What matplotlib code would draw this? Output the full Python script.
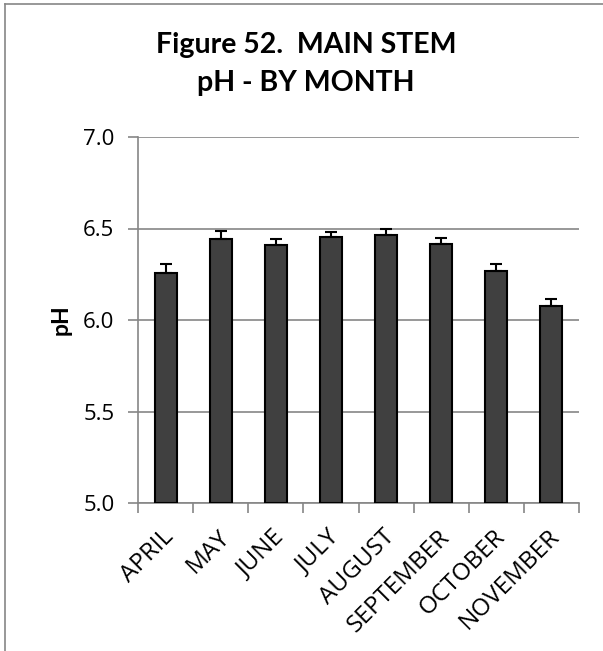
import matplotlib
matplotlib.use("Agg")
import matplotlib.pyplot as plt
import matplotlib.transforms as mtransforms
from matplotlib.lines import Line2D

months = ["APRIL", "MAY", "JUNE", "JULY", "AUGUST", "SEPTEMBER", "OCTOBER", "NOVEMBER"]
ph_values = [6.255, 6.442, 6.409, 6.451, 6.463, 6.413, 6.269, 6.075]
ph_errors = [0.052, 0.047, 0.033, 0.031, 0.033, 0.034, 0.038, 0.038]
y_ticks = [5.0, 5.5, 6.0, 6.5, 7.0]
y_ticklabels = ["5.0", "5.5", "6.0", "6.5", "7.0"]

W, H = 603, 651
fig = plt.figure(figsize=(W / 100, H / 100), dpi=100)
ax = fig.add_axes([138 / W, 1 - 503 / H, (579 - 138) / W, (503 - 137) / H])

grid_c = "#868686"
x = list(range(len(months)))
ax.bar(x, [v - 5.0 for v in ph_values], bottom=5.0, width=0.4, color="#404040",
       edgecolor="black", linewidth=1.5, zorder=3)
ax.errorbar(x, ph_values, yerr=[[0] * len(ph_errors), ph_errors], fmt="none",
            ecolor="black", elinewidth=1.5, capsize=4.5, capthick=1.5, zorder=4)

ax.set_xlim(-0.5, len(months) - 0.5)
ax.set_ylim(5.0, 7.0)
ax.set_yticks(y_ticks)
ax.set_yticklabels(y_ticklabels, fontsize=16, family="Open Sans")
ax.yaxis.grid(True, color=grid_c, linewidth=1.2, zorder=0)
ax.set_axisbelow(True)

ax.set_xticks([i - 0.5 for i in range(len(months) + 1)], minor=False)
ax.set_xticklabels([])
ax.set_xticks(x, minor=True)
ax.set_xticklabels(months, minor=True, rotation=45, ha="right", va="center",
                   rotation_mode="anchor", fontsize=17.5, family="Open Sans")
ax.tick_params(axis="x", which="minor", length=0, pad=22)
ax.tick_params(axis="x", which="major", length=7, width=1.2, color=grid_c, direction="out")
ax.tick_params(axis="y", length=7, width=1.2, color=grid_c, direction="out", pad=10)

shift = mtransforms.ScaledTranslation(5 / 100, 0, fig.dpi_scale_trans)
for lab in ax.get_xticklabels(minor=True):
    lab.set_transform(lab.get_transform() + shift)

for s in ["top", "right"]:
    ax.spines[s].set_visible(False)
for s in ["left", "bottom"]:
    ax.spines[s].set_color(grid_c)
    ax.spines[s].set_linewidth(1.2)

ax.set_ylabel("pH", fontsize=16.5, fontweight="bold", family="Lato", labelpad=8)

fig.text(306 / W, 1 - 64 / H, "Figure 52.  MAIN STEM\npH - BY MONTH", ha="center", va="center",
         fontsize=20.5, fontweight="bold", family="Lato", linespacing=1.55)

# chart frame (left and top edges)
fig.add_artist(Line2D([5 / W, 5 / W], [0, 1 - 4 / H], color=grid_c, linewidth=1.2,
                      transform=fig.transFigure))
fig.add_artist(Line2D([5 / W, 1], [1 - 4 / H, 1 - 4 / H], color=grid_c, linewidth=1.2,
                      transform=fig.transFigure))

fig.savefig("out.png", dpi=100, facecolor="white")
